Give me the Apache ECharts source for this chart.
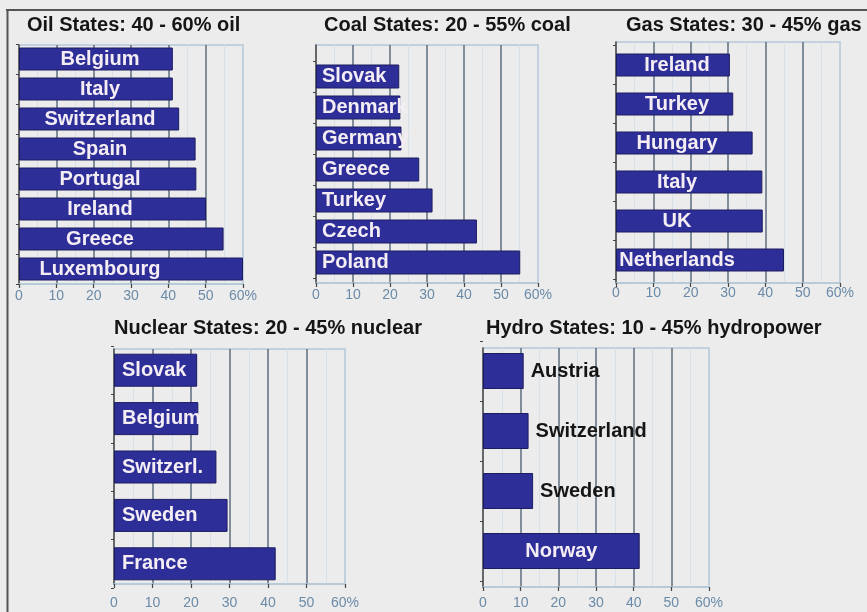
<!DOCTYPE html>
<html>
<head>
<meta charset="utf-8">
<script src="https://cdn.jsdelivr.net/npm/echarts@6/dist/echarts.min.js"></script>
<style>
  html, body { margin: 0; padding: 0; background: #ececec; }
  #chart { width: 867px; height: 612px; }
</style>
</head>
<body>
<div id="chart"></div>
<script>
// ---- Data ----
const tickLabels = ['0', '10', '20', '30', '40', '50', '60%'];

const oilTitle = 'Oil States: 40 - 60% oil';
const oilCountries = ['Belgium', 'Italy', 'Switzerland', 'Spain', 'Portugal', 'Ireland', 'Greece', 'Luxembourg'];
const oilValues = [41.2, 41.2, 42.9, 47.3, 47.5, 50.1, 54.8, 60];

const coalTitle = 'Coal States: 20 - 55% coal';
const coalCountries = ['Slovak', 'Denmark', 'Germany', 'Greece', 'Turkey', 'Czech', 'Poland'];
const coalValues = [22.5, 22.8, 23.1, 27.9, 31.5, 43.5, 55.2];

const gasTitle = 'Gas States: 30 - 45% gas';
const gasCountries = ['Ireland', 'Turkey', 'Hungary', 'Italy', 'UK', 'Netherlands'];
const gasValues = [30.5, 31.4, 36.6, 39.2, 39.3, 45.0];

const nuclearTitle = 'Nuclear States: 20 - 45% nuclear';
const nuclearCountries = ['Slovak', 'Belgium', 'Switzerl.', 'Sweden', 'France'];
const nuclearValues = [21.6, 21.9, 26.6, 29.5, 42.0];

const hydroTitle = 'Hydro States: 10 - 45% hydropower';
const hydroCountries = ['Austria', 'Switzerland', 'Sweden', 'Norway'];
const hydroValues = [10.8, 12.1, 13.3, 41.6];

// ---- Layout / style ----
const FONT = '"Liberation Sans", Arial, Helvetica, sans-serif';
const BAR = '#2e2e98';
const BAR_BORDER = '#1c1c60';
const LABEL_WHITE = '#f4eef4';

const panels = [
  { title: oilTitle, cats: oilCountries, vals: oilValues,
    titlePos: { left: 27, top: 15 },
    frame: { left: 19, top: 45, width: 224, height: 239 },
    bars: { top: 44, height: 240 }, barWidth: 23, labelMargin: 5,
    label: { position: [81, '50%'], align: 'center', verticalAlign: 'middle' } },
  { title: coalTitle, cats: coalCountries, vals: coalValues,
    titlePos: { left: 324, top: 15 },
    frame: { left: 316, top: 45, width: 222, height: 238 },
    bars: { top: 61, height: 217 }, barWidth: 24, labelMargin: 5,
    label: { position: 'insideLeft', distance: 6 } },
  { title: gasTitle, cats: gasCountries, vals: gasValues,
    titlePos: { left: 626, top: 15 },
    frame: { left: 616, top: 42, width: 224, height: 241 },
    bars: { top: 45.5, height: 234 }, barWidth: 23, labelMargin: 3,
    label: { position: [61, '50%'], align: 'center', verticalAlign: 'middle' } },
  { title: nuclearTitle, cats: nuclearCountries, vals: nuclearValues,
    titlePos: { left: 114, top: 318 },
    frame: { left: 114, top: 349, width: 231, height: 235 },
    bars: { top: 346, height: 242 }, barWidth: 33, labelMargin: 12,
    label: { position: 'insideLeft', distance: 8 } },
  { title: hydroTitle, cats: hydroCountries, vals: hydroValues,
    titlePos: { left: 486, top: 318 },
    frame: { left: 483, top: 348, width: 226, height: 239 },
    bars: { top: 341, height: 240 }, barWidth: 36, labelMargin: 9,
    label: null }
];

const option = {
  backgroundColor: '#ececec',
  animation: false,
  title: [], grid: [], xAxis: [], yAxis: [], series: [],
  graphic: [
    { type: 'line', shape: { x1: 6, y1: 10, x2: 867, y2: 10 }, style: { stroke: '#555', lineWidth: 2 }, z: 100 },
    { type: 'line', shape: { x1: 7.5, y1: 10, x2: 7.5, y2: 612 }, style: { stroke: '#555', lineWidth: 2 }, z: 100 }
  ]
};

panels.forEach((p, i) => {
  option.title.push({
    text: p.title, left: p.titlePos.left, top: p.titlePos.top, padding: 0,
    textStyle: { fontFamily: FONT, fontSize: 20, fontWeight: 'bold', color: '#151515' }
  });
  // frame grid (axis, gridlines)
  const fg = option.grid.length;
  option.grid.push({
    left: p.frame.left, top: p.frame.top, width: p.frame.width, height: p.frame.height,
    show: true, borderColor: '#b4c8d8', borderWidth: 1.5, backgroundColor: 'transparent'
  });
  option.xAxis.push({
    type: 'value', gridIndex: fg, min: 0, max: 60, interval: 10,
    axisLine: { show: true, lineStyle: { color: '#b4c8d8', width: 1.5 } },
    axisTick: { show: true, length: 4, lineStyle: { color: '#444', width: 1.2 } },
    axisLabel: { margin: p.labelMargin, color: '#6a8aa8', fontFamily: FONT, fontSize: 14,
      formatter: v => tickLabels[Math.round(v / 10)] },
    splitLine: { show: true, showMinLine: false, showMaxLine: false, lineStyle: { color: '#5e6e7c', width: 1.5 } },
    minorTick: { show: false, splitNumber: 2 },
    minorSplitLine: { show: true, lineStyle: { color: '#d8e0e8', width: 1 } }
  });
  option.yAxis.push({
    type: 'value', gridIndex: fg, min: 0, max: 1,
    axisLine: { show: true, lineStyle: { color: '#444', width: 1.5 } },
    axisTick: { show: false }, axisLabel: { show: false }, splitLine: { show: false }
  });
  // bar grid
  const bg = option.grid.length;
  option.grid.push({
    left: p.frame.left, top: p.bars.top, width: p.frame.width, height: p.bars.height, show: false
  });
  option.xAxis.push({ type: 'value', gridIndex: bg, min: 0, max: 60, show: false });
  option.yAxis.push({
    type: 'category', gridIndex: bg, data: p.cats, inverse: true,
    axisLine: { show: false },
    axisTick: { show: true, length: 3, inside: false, lineStyle: { color: '#444' } },
    axisLabel: { show: false }, splitLine: { show: false }
  });
  const baseLabel = { show: true, fontFamily: FONT, fontSize: 20, fontWeight: 'bold', color: LABEL_WHITE,
    formatter: prm => prm.name };
  let data;
  if (p.label) {
    data = p.vals;
    Object.assign(baseLabel, p.label);
  } else {
    // hydro: short bars labelled outside in black, long bar labelled inside in white
    data = p.vals.map(v => v > 30
      ? { value: v, label: { position: 'inside', color: LABEL_WHITE } }
      : { value: v, label: { position: 'right', distance: 7, color: '#151515' } });
  }
  option.series.push({
    type: 'bar', xAxisIndex: bg, yAxisIndex: bg, data: data,
    barWidth: p.barWidth,
    itemStyle: { color: BAR, borderColor: BAR_BORDER, borderWidth: 1 },
    label: baseLabel, z: 3
  });
});

const chart = echarts.init(document.getElementById('chart'), null, { renderer: 'canvas' });
chart.setOption(option);
</script>
</body>
</html>
